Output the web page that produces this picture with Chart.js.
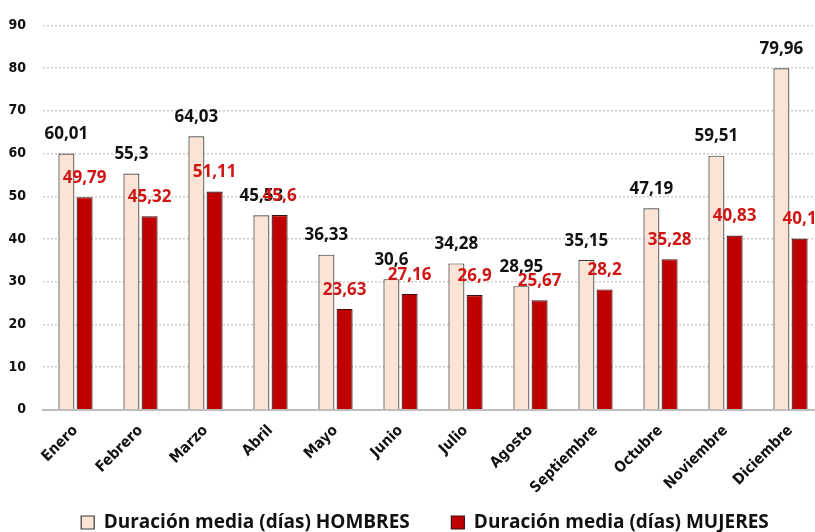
<!DOCTYPE html>
<html>
<head>
<meta charset="utf-8">
<script src="https://cdn.jsdelivr.net/npm/chart.js@4/dist/chart.umd.min.js"></script>
<style>
  html, body { margin: 0; padding: 0; background: #fff; overflow: hidden; }
  #wrap { position: relative; width: 850px; height: 532px; }
</style>
</head>
<body>
<div id="wrap"><canvas id="myChart"></canvas></div>
<script>
var meses = ['Enero', 'Febrero', 'Marzo', 'Abril', 'Mayo', 'Junio', 'Julio', 'Agosto', 'Septiembre', 'Octubre', 'Noviembre', 'Diciembre'];
var hombres = [60.01, 55.3, 64.03, 45.53, 36.33, 30.6, 34.28, 28.95, 35.15, 47.19, 59.51, 79.96];
var mujeres = [49.79, 45.32, 51.11, 45.6, 23.63, 27.16, 26.9, 25.67, 28.2, 35.28, 40.83, 40.1];
var yTicks = [0, 10, 20, 30, 40, 50, 60, 70, 80, 90];

const labelFont = 'bold 17px "Open Sans", sans-serif';
const axisFont = '"DejaVu Sans Condensed", "DejaVu Sans", sans-serif';

// draw the values above the bars (no datalabels plugin available)
const valueLabels = {
    id: 'valueLabels',
    afterLayout(chart) {
        // legend is centred on the whole canvas, not on the padded area
        chart.legend.right = chart.width;
    },
    afterDatasetsDraw(chart) {
        var ctx = chart.ctx;
        ctx.save();
        ctx.font = labelFont;
        ctx.textAlign = 'center';
        ctx.textBaseline = 'middle';
        chart.data.datasets.forEach(function(ds, i) {
            var meta = chart.getDatasetMeta(i);
            meta.data.forEach(function(bar, j) {
                ctx.fillStyle = ds.labelColor;
                var txt = String(ds.data[j]).replace('.', ',');
                ctx.fillText(txt, bar.x, bar.y - 19);
            });
        });
        ctx.restore();
    }
};

const data = {
    labels: meses,
    datasets: [{
        // trailing spaces = gap between the two legend items
        label: 'Duración media (días) HOMBRES      ',
        data: hombres,
        backgroundColor: '#fbe4d6',
        borderColor: '#3a3a3a',
        borderWidth: 1.2,
        labelColor: '#111111'
    }, {
        label: 'Duración media (días) MUJERES',
        data: mujeres,
        backgroundColor: '#c00000',
        borderColor: '#3a1010',
        borderWidth: 1.2,
        labelColor: '#d01515'
    }]
};

Chart.defaults.font.family = axisFont;

new Chart(document.getElementById('myChart'), {
    type: 'bar',
    data: data,
    plugins: [valueLabels],
    options: {
        responsive: true,
        maintainAspectRatio: false,
        animation: false,
        categoryPercentage: 0.56,
        barPercentage: 0.88,
        layout: { padding: { left: 0, right: 27, top: 20, bottom: -10 } },
        scales: {
            x: {
                grid: { display: false },
                border: { color: '#bdbdbd', width: 2 },
                ticks: {
                    color: '#111',
                    font: { size: 15, weight: 'bold' },
                    minRotation: 45,
                    maxRotation: 45,
                    padding: 4
                }
            },
            y: {
                min: 0,
                max: 90,
                afterBuildTicks: function(axis) {
                    axis.ticks = yTicks.map(v => ({ value: v }));
                },
                afterFit: function(axis) {
                    axis.width = 43;
                },
                border: { display: false, dash: [2, 2] },
                grid: { color: '#cfcfcf', lineWidth: 1.5, drawTicks: false },
                ticks: {
                    color: '#111',
                    font: { size: 14, weight: 'bold' },
                    padding: 17
                }
            }
        },
        plugins: {
            legend: {
                position: 'bottom',
                labels: {
                    color: '#111',
                    font: { size: 19, weight: 'bold', family: '"Open Sans", sans-serif' },
                    boxWidth: 13,
                    boxHeight: 13,
                    padding: 12
                }
            },
            tooltip: { enabled: false }
        }
    }
});
</script>
</body>
</html>
